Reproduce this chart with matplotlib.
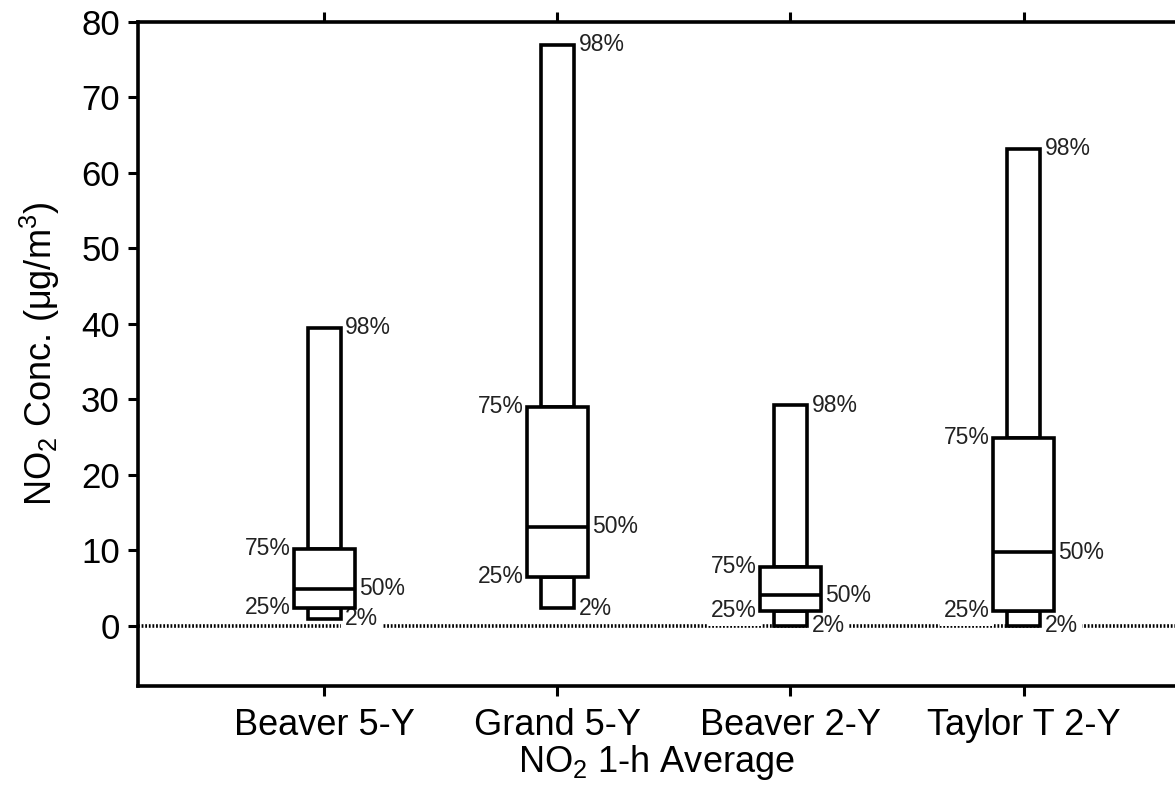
import matplotlib
matplotlib.use('Agg')
import matplotlib.pyplot as plt

plt.rcParams['font.family'] = ['Liberation Sans', 'DejaVu Sans']
plt.rcParams['mathtext.fontset'] = 'custom'
plt.rcParams['mathtext.rm'] = 'Liberation Sans'
plt.rcParams['mathtext.it'] = 'Liberation Sans'

# percentile values (ug/m3)
sites = ['Beaver 5-Y', 'Grand 5-Y', 'Beaver 2-Y', 'Taylor T 2-Y']
p02 = [0.9, 2.3, 0.0, 0.0]
p25 = [2.4, 6.5, 2.0, 2.0]
p50 = [4.9, 13.1, 4.0, 9.7]
p75 = [10.2, 29.0, 7.8, 24.9]
p98 = [39.5, 77.0, 29.2, 63.2]

fig = plt.figure(figsize=(11.75, 7.95), dpi=100)
ax = fig.add_axes([0.1174, 0.1371, 0.8826, 0.8352])

x = list(range(1, len(sites) + 1))
wide = 0.26
narrow = 0.14
lw = 2.6

# zero line
ax.axhline(0, color='black', lw=2.6, ls=(0, (0.5, 0.5)), zorder=1)

# whisker boxes (2-25 and 75-98), then the 25-75 box
ax.bar(x, [b - a for a, b in zip(p02, p25)], bottom=p02, width=narrow,
       facecolor='white', edgecolor='black', linewidth=lw, zorder=3)
ax.bar(x, [b - a for a, b in zip(p75, p98)], bottom=p75, width=narrow,
       facecolor='white', edgecolor='black', linewidth=lw, zorder=3)
ax.bar(x, [b - a for a, b in zip(p25, p75)], bottom=p25, width=wide,
       facecolor='white', edgecolor='black', linewidth=lw, zorder=4)
ax.hlines(p50, [i - wide / 2 for i in x], [i + wide / 2 for i in x],
          color='black', lw=lw, zorder=5)

# labels sit under the boxes but mask the zero line
box = dict(facecolor='white', edgecolor='none', pad=3)
lab = dict(fontsize=16.5, color='#222222', va='center', bbox=box, zorder=2)
for i in range(len(sites)):
    xi = x[i]
    ax.text(xi + narrow / 2 + 0.02, p98[i], '98%', ha='left', **lab)
    ax.text(xi - wide / 2 - 0.015, p75[i], '75%', ha='right', **lab)
    ax.text(xi + wide / 2 + 0.02, p50[i], '50%', ha='left', **lab)
    ax.text(xi - wide / 2 - 0.015, p25[i], '25%', ha='right', **lab)
    ax.text(xi + narrow / 2 + 0.02, p02[i], '2%', ha='left', **lab)

ax.set_xlim(0.2, 4.65)
ax.set_ylim(-8, 80)
ax.set_yticks(range(0, 81, 10))
ax.set_xticks(x)
ax.set_xticklabels(sites, fontsize=26)
ax.tick_params(axis='y', labelsize=25, length=7, width=2.2, pad=6)
ax.tick_params(axis='x', length=7, width=2.2, pad=9, top=True)

ax.spines['right'].set_visible(False)
for s in ['left', 'top', 'bottom']:
    ax.spines[s].set_linewidth(2.6)

ax.set_xlabel(r'NO$_2$ 1-h Average', fontsize=26, labelpad=0)
ax.set_ylabel(r'NO$_2$ Conc. ($\mu$g/m$^3$)', fontsize=26, labelpad=14)

fig.savefig('out.png', dpi=100)
